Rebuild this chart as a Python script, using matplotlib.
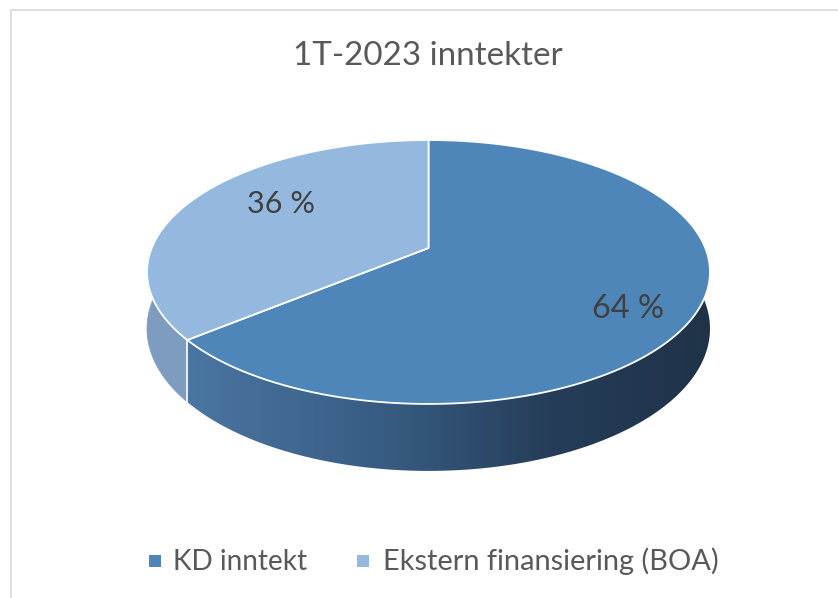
import numpy as np
import matplotlib
matplotlib.use("Agg")
import matplotlib.pyplot as plt
from matplotlib.patches import Polygon, Rectangle
from matplotlib.colors import LinearSegmentedColormap

# ---------------- data ----------------
title = "1T-2023 inntekter"
categories = ["KD inntekt", "Ekstern finansiering (BOA)"]
values = [64, 36]
top_colors = ["#4F86B9", "#95B8DE"]
side_color_light = "#7E9BC0"

# ---------------- layout / projection ----------------
W, H_FIG = 838, 598
CX, K = 428.5, 276.8          # horizontal centre, horizontal radius
P, Q, S = -82.5, 248.0, 0.1818  # perspective terms (vertical)
DEPTH = 54.8                  # pie thickness


def proj(phi_deg, z=0.0, r=1.0):
    phi = np.radians(phi_deg)
    X = r * np.cos(phi)
    Y = r * np.sin(phi)
    w = 1 + S * Y
    x = CX + K * X / w
    y = (P * Y + Q + DEPTH * z) / w
    return x, y


def rim(a0, a1, z, n=300):
    ang = np.linspace(a0, a1, n)
    x, y = proj(ang, z)
    return np.column_stack([x, y])


fig = plt.figure(figsize=(W / 100, H_FIG / 100), dpi=100)
ax = fig.add_axes([0, 0, 1, 1])
ax.set_axis_off()
font = ["Lato", "DejaVu Sans"]

# slice angles: start at 12 o'clock, clockwise
total = sum(values)
angles = []
start = 90.0
for v in values:
    end = start - 360.0 * v / total
    angles.append((start, end))
    start = end

(kd0, kd1), (li0, li1) = angles  # kd: 90 -> -140.4 ; light: -140.4 -> -270

# --- sides ---
# light slice side (angles li1..li0 i.e. -270..-140.4 -> 90..219.6)
a_lo, a_hi = li1 + 360, li0 + 360
side_l = np.vstack([rim(a_lo, a_hi, 0), rim(a_hi, a_lo, 1)])
ax.add_patch(Polygon(side_l, closed=True, facecolor=side_color_light,
                     edgecolor=side_color_light, lw=0.5, zorder=1))

# KD side with gradient (angles 219.6 .. 450)
k_lo, k_hi = kd1 + 360, kd0 + 360
side_k = np.vstack([rim(k_lo, k_hi, 0), rim(k_hi, k_lo, 1)])
clip = Polygon(side_k, closed=True, facecolor="none", edgecolor="none", zorder=2)
ax.add_patch(clip)
cmap = LinearSegmentedColormap.from_list(
    "side", [(0.0, "#4A76A2"), (0.4, "#365A80"), (0.7, "#253D58"), (1.0, "#1F3348")])
grad = np.linspace(0, 1, 512)[None, :]
xs0, xs1 = side_k[:, 0].min(), side_k[:, 0].max()
ys0, ys1 = side_k[:, 1].min(), side_k[:, 1].max()
im = ax.imshow(grad, cmap=cmap, aspect="auto", extent=(xs0, xs1, ys1, ys0),
               interpolation="bilinear", zorder=2)
im.set_clip_path(clip)

# seam at slice boundary
bx0, by0 = proj(k_lo, 0)
bx1, by1 = proj(k_lo, 1)
ax.plot([bx0, bx1], [by0, by1], color="white", lw=1.2, zorder=3)

# --- tops ---
cx0, cy0 = proj(0, 0, r=0)
for (a0, a1), col in zip(angles, top_colors):
    pts = np.vstack([[cx0, cy0], rim(a0, a1, 0), [[cx0, cy0]]])
    ax.add_patch(Polygon(pts, closed=True, facecolor=col, edgecolor="white",
                         lw=1.3, joinstyle="round", zorder=4))

# --- frame ---
ax.plot([10.5, 10.5, W + 5], [H_FIG + 5, 9.5, 9.5], color="#D9D9D9", lw=1.2,
        zorder=0, solid_joinstyle="miter")

ax.set_xlim(0, W)
ax.set_ylim(H_FIG, 0)

# --- texts ---
renderer = fig.canvas.get_renderer()


def fit(t, target):
    for _ in range(3):
        bb = t.get_window_extent(renderer)
        t.set_fontsize(t.get_fontsize() * target / bb.width)


tt = ax.text(428, 65, title, ha="center", va="baseline", color="#595959",
             family=font, fontsize=22, zorder=6)
fit(tt, 269)

label_pos = [(628, 318), (281, 213)]
label_w = [72, 68]
for v, (lx, ly), lw_ in zip(values, label_pos, label_w):
    t = ax.text(lx, ly, f"{v} %", ha="center", va="baseline", color="#404040",
                family=font, fontsize=20, zorder=6)
    fit(t, lw_)

legend_sq = [149, 357]
legend_tx = [173, 383]
legend_w = [134, 337]
for name, col, sx, tx, tw in zip(categories, top_colors, legend_sq, legend_tx, legend_w):
    ax.add_patch(Rectangle((sx, 555), 12, 12, facecolor=col, edgecolor="none", zorder=6))
    t = ax.text(tx, 570, name, ha="left", va="baseline", color="#595959",
                family=font, fontsize=20, zorder=6)
    fit(t, tw)

fig.savefig("out.png", dpi=100, facecolor="white")
